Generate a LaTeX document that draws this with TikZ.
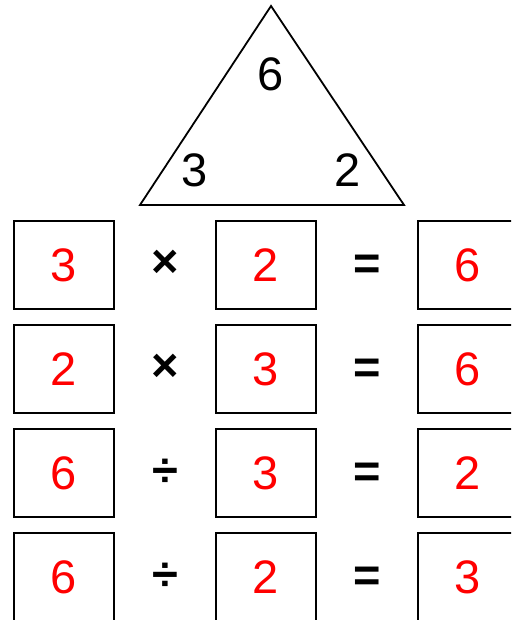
\documentclass[tikz,border=0pt]{standalone}
\usepackage{fontspec}
\setmainfont{Liberation Sans}
\tikzset{
  numbox/.style={draw=black, line width=1.8pt, minimum width=100pt, minimum height=88pt,
    inner sep=0pt, text=red, font=\fontsize{47}{47}\selectfont},
  digit/.style={inner sep=0pt, font=\fontsize{47}{47}\selectfont},
  opsign/.style={inner sep=0pt, text=black, font=\fontsize{47}{47}\selectfont\bfseries}
}
\begin{document}
\begin{tikzpicture}[x=1pt, y=-1pt]
    \useasboundingbox (0,0) rectangle (511,620);
    \clip (0,0) rectangle (511,620);

    % Number triangle
    \coordinate (apex) at (271,6);
    \coordinate (baseL) at (140,205);
    \coordinate (baseR) at (404,205);
    \draw[line width=1.8pt] (apex) -- (baseR) -- (baseL) -- cycle;
    \node[digit] (prod) at (271,74) {6};
    \node[digit] (facL) at (195,170) {3};
    \node[digit] (facR) at (348,170) {2};

    % Fact family rows (\oy nudges the sign onto its line)
    \foreach \i/\a/\op/\oy/\b/\c in {0/3/×/-1/2/6, 1/2/×/-1/3/6, 2/6/÷/0/3/2, 3/6/÷/0/2/3}{
        \node[numbox] (a\i) at (64,{265+104*\i}) {\a};
        \node[opsign] (op\i) at (165,{265+104*\i+\oy}) {\op};
        \node[numbox] (b\i) at (266,{265+104*\i}) {\b};
        \node[opsign] (eq\i) at (367,{267+104*\i}) {=};
        \node[numbox] (c\i) at (468,{265+104*\i}) {\c};
    }
\end{tikzpicture}
\end{document}
